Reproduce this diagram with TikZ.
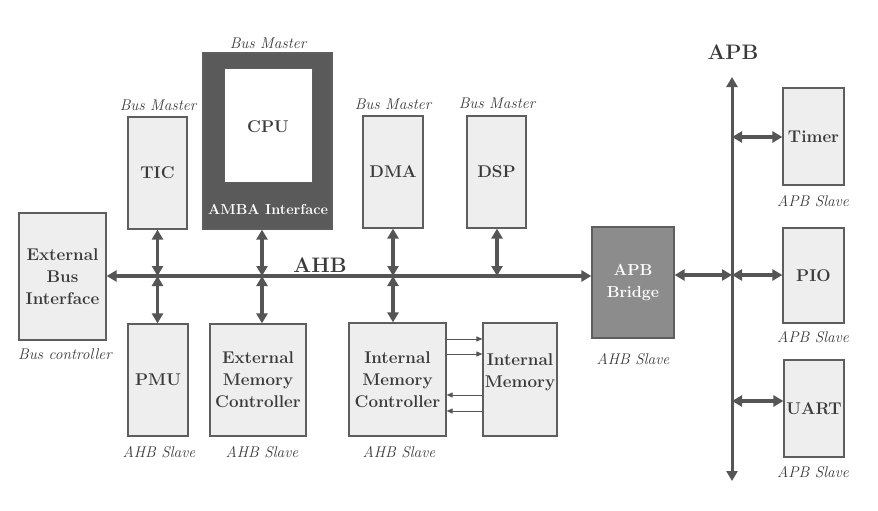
\documentclass[tikz,border=0pt]{standalone}
\usetikzlibrary{arrows.meta}
\definecolor{boxfill}{HTML}{EEEEEE}
\definecolor{boxline}{HTML}{5E5E5E}
\definecolor{txt}{HTML}{3A3A3A}
\definecolor{arr}{HTML}{555555}
\definecolor{cpudark}{HTML}{5A5A5A}
\definecolor{bridgefill}{HTML}{8C8C8C}
\tikzset{
  blk/.style={draw=boxline, fill=boxfill, line width=1.2pt, inner sep=0pt, align=center,
    text=txt, font=\fontsize{17}{22}\selectfont\bfseries},
  lbl/.style={text=txt, font=\fontsize{15.5}{18}\selectfont\itshape, inner sep=0pt},
  busarr/.style={draw=arr, line width=3.5pt, {Triangle[length=10pt,width=11pt]}-{Triangle[length=10pt,width=11pt]}},
  thinarr/.style={draw=arr, line width=1pt, -{Triangle[length=6pt,width=5pt]}},
  buslbl/.style={text=txt, font=\fontsize{21}{24}\selectfont\bfseries, inner sep=0pt}
}
\begin{document}
\begin{tikzpicture}[x=1pt,y=-1pt]
\useasboundingbox[fill=white] (0,0) rectangle (878,511);

% blocks
\node[blk, minimum width=87pt, minimum height=127pt] (ebi) at (62.5,276.5) {External\\Bus\\Interface};
\node[blk, minimum width=59pt, minimum height=112pt] (tic) at (157.5,173) {TIC};
\node[draw=boxline, fill=cpudark, line width=1.2pt, inner sep=0pt, minimum width=129pt, minimum height=176pt] (cpu) at (267.5,141) {};
\node[draw=boxline, fill=white, line width=1pt, inner sep=0pt, minimum width=88pt, minimum height=113pt] (cpuin) at (268,125.5) {};
\node[text=txt, font=\fontsize{17}{22}\selectfont\bfseries, inner sep=0pt] (cputxt) at (268,127) {CPU};
\node[text=white, font=\fontsize{14.5}{18}\selectfont\bfseries, inner sep=0pt] (amba) at (268,209) {AMBA Interface};
\node[blk, minimum width=60pt, minimum height=112pt] (dma) at (393,172) {DMA};
\node[blk, minimum width=59pt, minimum height=112pt] (dsp) at (496.5,172) {DSP};
\node[blk, fill=bridgefill, text=white, font=\fontsize{16}{22}\selectfont\bfseries, minimum width=82pt, minimum height=111pt] (bridge) at (633,282.5) {APB\\Bridge};
\node[blk, minimum width=60pt, minimum height=112pt] (pmu) at (158,380) {PMU};
\node[blk, minimum width=96pt, minimum height=112pt] (emc) at (258,380) {External\\Memory\\Controller};
\node[blk, minimum width=97pt, minimum height=113pt] (imc) at (397.5,379.5) {Internal\\Memory\\Controller};
\node[blk, minimum width=74pt, minimum height=113pt] (im) at (520,379.5) {Internal\\Memory\\[-5pt]};
\node[blk, minimum width=61pt, minimum height=97pt] (timer) at (813.5,136.5) {Timer};
\node[blk, minimum width=61pt, minimum height=95pt] (pio) at (813.5,275.5) {PIO};
\node[blk, minimum width=60pt, minimum height=97pt] (uart) at (814,408.5) {UART};

% labels
\node[lbl] (l1) at (268,43) {Bus Master};
\node[lbl] (l2) at (158,105) {Bus Master};
\node[lbl] (l3) at (393,104) {Bus Master};
\node[lbl] (l4) at (497,103) {Bus Master};
\node[lbl] (l5) at (65,354) {Bus controller};
\node[lbl] (l6) at (159,452) {AHB Slave};
\node[lbl] (l7) at (262,452) {AHB Slave};
\node[lbl] (l8) at (399,452) {AHB Slave};
\node[lbl] (l9) at (633,359) {AHB Slave};
\node[lbl] (l10) at (813,201) {APB Slave};
\node[lbl] (l11) at (813,337) {APB Slave};
\node[lbl] (l12) at (813,472) {APB Slave};
\node[buslbl] (ahb) at (320,265) {AHB};
\node[buslbl] (apb) at (733,52) {APB};

% bus coordinates
\coordinate (bt) at (157.5,276);
\coordinate (bc) at (262,276);
\coordinate (bd) at (393,276);
\coordinate (bs) at (497,276);
\coordinate (apbtop) at (732,77);
\coordinate (apbbot) at (732,481);
\coordinate (at) at (732,137);
\coordinate (ap) at (732,275);
\coordinate (au) at (732,401);

% AHB bus
\draw[busarr] (ebi.east |- bt) -- (bridge.west |- bt);
\draw[busarr] (tic.south -| bt) -- (bt);
\draw[busarr] (bt) -- (pmu.north -| bt);
\draw[busarr] (cpu.south -| bc) -- (bc);
\draw[busarr] (bc) -- (emc.north -| bc);
\draw[busarr] (dma.south -| bd) -- (bd);
\draw[busarr] (bd) -- (imc.north -| bd);
\draw[busarr] (dsp.south -| bs) -- (bs);

% APB
\draw[busarr] (bridge.east |- ap) -- (ap);
\draw[busarr, line width=3pt] (apbbot) -- (apbtop);
\draw[busarr] (at) -- (timer.west |- at);
\draw[busarr] (ap) -- (pio.west |- ap);
\draw[busarr] (au) -- (uart.west |- au);

% internal memory links
\coordinate (r1) at (0,339);
\coordinate (r2) at (0,354);
\coordinate (r3) at (0,395);
\coordinate (r4) at (0,411);
\draw[thinarr] (imc.east |- r1) -- (im.west |- r1);
\draw[thinarr] (imc.east |- r2) -- (im.west |- r2);
\draw[thinarr] (im.west |- r3) -- (imc.east |- r3);
\draw[thinarr] (im.west |- r4) -- (imc.east |- r4);
\end{tikzpicture}
\end{document}
